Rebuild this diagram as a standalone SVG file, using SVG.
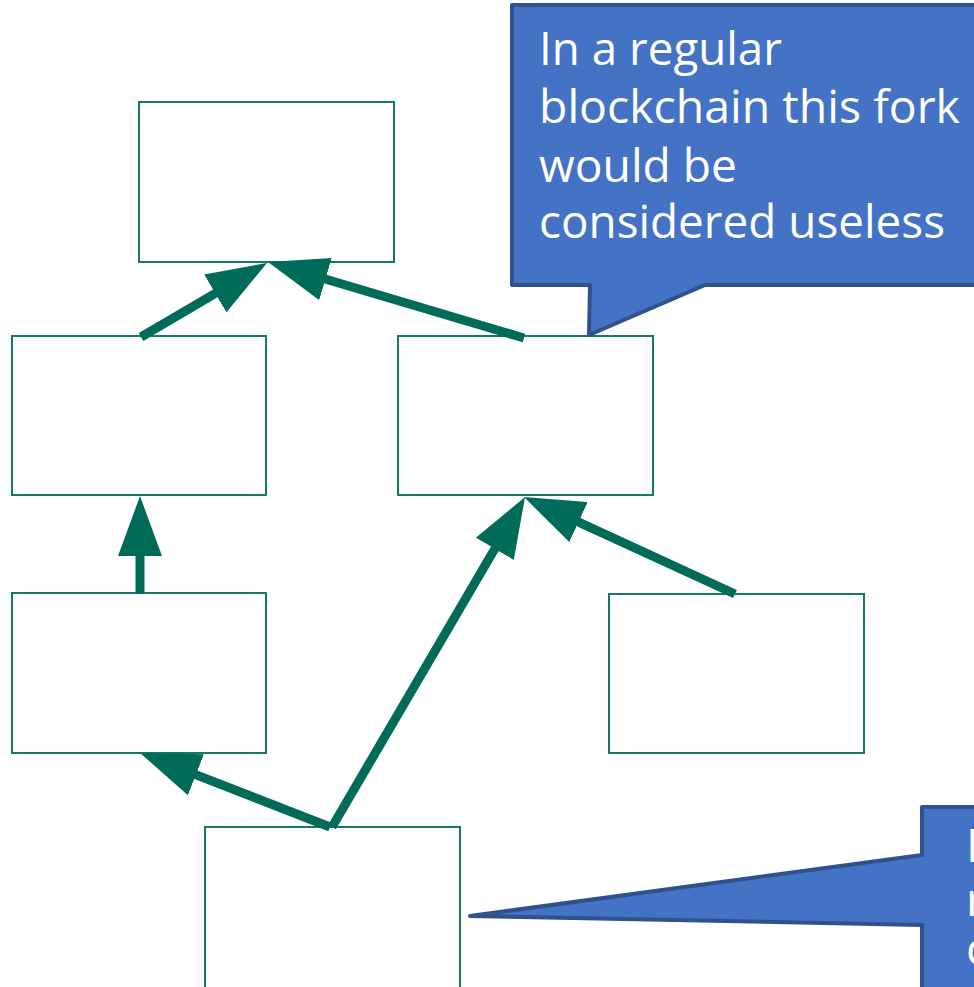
<svg xmlns="http://www.w3.org/2000/svg" width="974" height="987" viewBox="0 0 974 987">
  <style>
    .block { fill: #ffffff; stroke: #137A67; stroke-width: 2; }
    .link { stroke: #006B58; stroke-width: 9; fill: none; marker-end: url(#head); }
    .callout { fill: #4472C4; stroke: #2F528F; stroke-width: 4; stroke-linejoin: round; }
    .note { fill: #ffffff; font-family: "Open Sans", "Noto Sans", sans-serif; font-size: 46px; }
  </style>
  <defs>
    <marker id="head" markerUnits="userSpaceOnUse" viewBox="0 0 60 44" refX="10" refY="22" markerWidth="60" markerHeight="44" orient="auto">
      <path d="M0,0 L60,22 L0,44 Z" fill="#006B58"/>
    </marker>
  </defs>
  <rect width="974" height="987" fill="#ffffff"/>

  <!-- blocks -->
  <g id="block-top"><rect class="block" x="139" y="102" width="255" height="160"/></g>
  <g id="block-mid-left"><rect class="block" x="12" y="336" width="254" height="159"/></g>
  <g id="block-mid-right"><rect class="block" x="398" y="336" width="255" height="159"/></g>
  <g id="block-low-left"><rect class="block" x="12" y="593" width="254" height="160"/></g>
  <g id="block-low-right"><rect class="block" x="609" y="594" width="255" height="159"/></g>
  <g id="block-bottom"><rect class="block" x="205" y="827" width="255" height="170"/></g>

  <!-- links: each points from a block to its parent -->
  <g id="links">
    <line class="link" x1="141" y1="337" x2="223.9" y2="288.3"/>
    <line class="link" x1="524" y1="338" x2="315.9" y2="276.2"/>
    <line class="link" x1="140" y1="594" x2="140" y2="546"/>
    <line class="link" x1="332" y1="827" x2="499.8" y2="540.2"/>
    <line class="link" x1="735" y1="594" x2="569.4" y2="517.9"/>
    <line class="link" x1="330" y1="827" x2="186.6" y2="771.1"/>
  </g>

  <!-- callout on the forked branch -->
  <g id="callout-fork">
    <path class="callout" d="M512,5 H990 V285 H705 L589,335 L590,285 H512 Z"/>
    <text class="note" x="539" y="65" textLength="243" lengthAdjust="spacingAndGlyphs">In a regular</text>
    <text class="note" x="539" y="123" textLength="421" lengthAdjust="spacingAndGlyphs">blockchain this fork</text>
    <text class="note" x="539" y="182" textLength="198" lengthAdjust="spacingAndGlyphs">would be</text>
    <text class="note" x="539" y="238" textLength="406" lengthAdjust="spacingAndGlyphs">considered useless</text>
  </g>

  <!-- callout on the bottom block -->
  <g id="callout-bottom">
    <path class="callout" d="M922,807 H990 V1000 H922 V925 L470,916 L922,855 Z"/>
    <text class="note" x="966" y="862">I</text>
    <text class="note" x="966" y="916">n</text>
    <text class="note" x="966" y="965">c</text>
  </g>
</svg>
